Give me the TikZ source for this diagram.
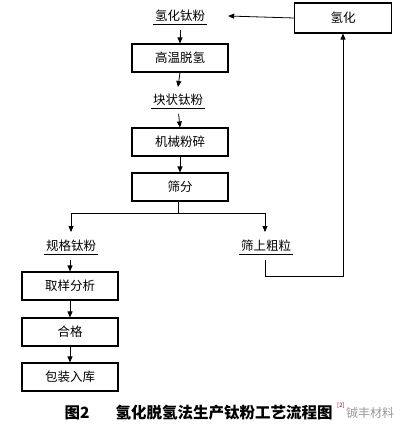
\documentclass[tikz,border=0pt]{standalone}
\usepackage{fontspec}
\setmainfont{Noto Sans CJK SC}
\usetikzlibrary{arrows.meta}

\tikzset{
  procbox/.style={draw, line width=1.1pt, minimum width=96pt, minimum height=28pt, inner sep=0pt, font=\fontsize{12.5}{14}\selectfont},
  prodlabel/.style={inner sep=2pt, font=\fontsize{12.5}{14}\selectfont},
  flow/.style={line width=0.8pt, -{Triangle[length=6pt,width=5pt]}},
  uline/.style={line width=0.9pt}
}

\begin{document}
\begin{tikzpicture}[x=1pt,y=-1pt]
\useasboundingbox (0,0) rectangle (409,428);

\draw (180,16)  node (tih)   [prodlabel] {氢化钛粉};
\draw (343,18)  node (hydr)  [procbox, minimum width=97pt, minimum height=30pt] {氢化};
\draw (180,58)  node (dehyd) [procbox] {高温脱氢};
\draw (178,100) node (lump)  [prodlabel] {块状钛粉};
\draw (180,142) node (mill)  [procbox] {机械粉碎};
\draw (180,187) node (sieve) [procbox] {筛分};
\draw (71,246)  node (spec)  [prodlabel] {规格钛粉};
\draw (266,246) node (coarse) [prodlabel] {筛上粗粒};
\draw (70,286)  node (samp)  [procbox] {取样分析};
\draw (70,332)  node (pass)  [procbox] {合格};
\draw (70,377)  node (pack)  [procbox] {包装入库};

% underlines of the products
\draw[uline] (tih.south west) -- (tih.south east);
\draw[uline] (lump.south west) -- (lump.south east);
\draw[uline] (spec.south west) -- (spec.south east);
\draw[uline] (coarse.south west) -- (coarse.south east);

% main line
\draw[flow, shorten <=6pt] (tih.south) -- (dehyd.north);
\draw[flow] (dehyd.south) -- ([yshift=5pt]lump.north);
\draw[flow, shorten <=6pt] (lump.south) -- (mill.north);
\draw[flow] (mill.south) -- (sieve.north);

% split after sieving
\coordinate (fork) at (178,213);
\draw[line width=0.8pt] (sieve.south -| fork) -- (fork);
\draw[flow] (fork) -| ([yshift=6pt]spec.north);
\draw[flow] (fork) -| ([yshift=6pt]coarse.north -| 265,0);

% coarse back to hydriding
\draw[flow, shorten <=6pt] (coarse.south -| 265,0) |- (343,276) -- (hydr.south);
\draw[flow] (hydr.west) -- ([xshift=21pt]tih.east);

% fine powder line
\draw[flow, shorten <=6pt] (spec.south -| samp.north) -- (samp.north);
\draw[flow] (samp.south) -- (pass.north);
\draw[flow] (pass.south) -- (pack.north);

% caption
\draw (77,413) node (fig) [font=\fontsize{15.5}{17}\selectfont\bfseries] {图2};
\draw (224,413) node (cap) [font=\fontsize{15.5}{17}\selectfont\bfseries] {氢化脱氢法生产钛粉工艺流程图};
\draw (cap.north east) node (ref) [anchor=north west, inner sep=1pt, text=red!60!black, font=\fontsize{6}{7}\selectfont] {[2]};
\draw (370,413) node (mark) [text=black!40, font=\fontsize{12}{14}\selectfont] {铖丰材料};
\end{tikzpicture}
\end{document}
